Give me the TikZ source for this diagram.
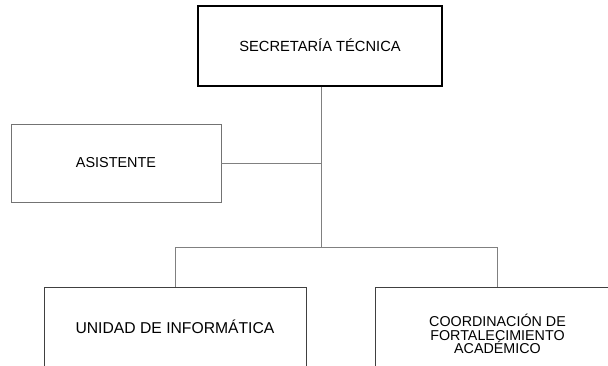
\documentclass[tikz,border=0pt]{standalone}
\usepackage{fontspec}
\setmainfont{Liberation Sans}
\begin{document}
\begin{tikzpicture}[x=1pt,y=1pt,
  box/.style={draw=#1, rectangle, inner sep=0pt, align=center, fill=white,
    font=\fontsize{14.3}{13.8}\selectfont},
  conn/.style={draw=black!50, line width=1pt}]
\useasboundingbox (0,0) rectangle (608,-366);
\node[box=black, line width=1.5pt, minimum width=244, minimum height=80, font=\fontsize{14.7}{14}\selectfont] (top) at (320,-46) {\raisebox{2pt}{SECRETARÍA TÉCNICA}};
\node[box=black!55, line width=0.9pt, minimum width=210, minimum height=78.5, font=\fontsize{14.4}{14}\selectfont] (asis) at (116,-163.3) {\raisebox{2pt}{ASISTENTE}};
\node[box=black!75, line width=0.9pt, minimum width=262, minimum height=80, font=\fontsize{15.7}{15}\selectfont] (unid) at (175,-327) {UNIDAD DE INFORMÁTICA};
\node[box=black!75, line width=0.9pt, minimum width=244, minimum height=94] (coord) at (497.5,-334) {COORDINACIÓN DE\\FORTALECIMIENTO\\ACADÉMICO};
\coordinate (trunk) at (321.7,-248);
\draw[conn] (top.south -| trunk) -- (trunk);
\draw[conn] (asis.east) -- (asis.east -| trunk);
\draw[conn] (unid.north) -- (unid.north |- trunk) -- (coord.north |- trunk) -- (coord.north);
\end{tikzpicture}
\end{document}
